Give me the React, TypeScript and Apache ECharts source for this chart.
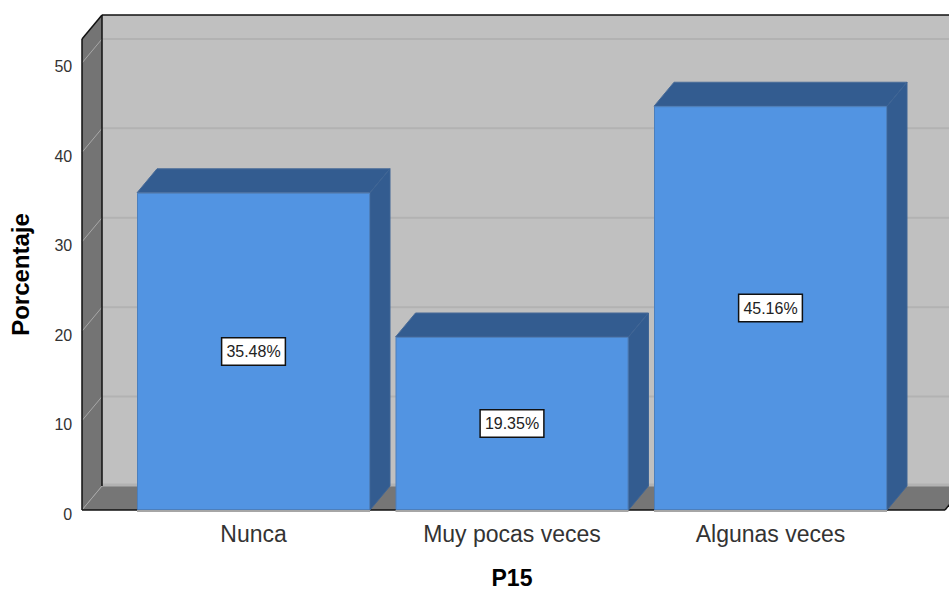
import React, { useEffect, useRef } from "react";
import * as echarts from "echarts";

const categories = ["Nunca", "Muy pocas veces", "Algunas veces"];
const percentages = [35.48, 19.35, 45.16];
const gridTicks = [0, 10, 20, 30, 40, 50];
const labelTexts = ["35.48%", "19.35%", "45.16%"];
const xAxisName = "P15";
const yAxisName = "Porcentaje";
const yMax = 52.68;

const DX = 20;
const DY = -24;
const BAR_W = 233;
const WALL_INSET = 42.25;
const FONT = "'Liberation Sans', Arial, sans-serif";

function poly(points: number[][], fill: string, stroke?: string, lineWidth = 1) {
  return {
    type: "polygon",
    shape: { points },
    style: { fill, stroke: stroke || "none", lineWidth },
  };
}
function seg(x1: number, y1: number, x2: number, y2: number, stroke: string, lineWidth = 1) {
  return { type: "line", shape: { x1, y1, x2, y2 }, style: { stroke, lineWidth } };
}

export default function App() {
  const ref = useRef<HTMLDivElement>(null);
  useEffect(() => {
    document.body.style.margin = "0";
    const chart = echarts.init(ref.current!, undefined, { renderer: "svg" });

    const renderWalls = (params: any, api: any) => {
      const cs = params.coordSys;
      const left = cs.x - WALL_INSET;
      const right = 945;
      const bottom = api.coord([0, 0])[1];
      const top = cs.y;
      const ch: any[] = [
        poly([[left + DX, top + DY], [right + DX, top + DY], [right + DX, bottom + DY], [left + DX, bottom + DY]], "#C0C0C0"),
        poly([[left, bottom], [right, bottom], [right + DX, bottom + DY], [left + DX, bottom + DY]], "#767676"),
        poly([[left, top], [left + DX, top + DY], [left + DX, bottom + DY], [left, bottom]], "#747474"),
      ];
      gridTicks.forEach((t) => {
        const y = api.coord([0, t])[1];
        ch.push(seg(left, y, left + DX, y + DY, "#A8A8A8", 1));
        ch.push(seg(left + DX, y + DY - (t === 0 ? 1 : 0), right + DX, y + DY - (t === 0 ? 1 : 0), "#B2B2B2", t === 0 ? 3 : 2));
      });
      ch.push(seg(left + DX, top + DY, 949, top + DY, "#111", 1.5));
      ch.push(seg(left, top, left + DX, top + DY, "#111", 1.5));
      ch.push(seg(left, top, left, bottom, "#111", 1.5));
      ch.push(seg(left + DX, top + DY, left + DX, bottom + DY, "#111", 1.5));
      ch.push(seg(left, bottom, right, bottom, "#111", 1.5));
      ch.push(seg(right, bottom, right + DX, bottom + DY, "#111", 1.5));
      return { type: "group", children: ch };
    };

    const renderFaces = (_: any, api: any) => {
      const i = api.value(0);
      const [cx, yTop] = api.coord([i, api.value(1)]);
      const yBot = api.coord([i, 0])[1];
      const l = cx - BAR_W / 2;
      const r = cx + BAR_W / 2;
      return {
        type: "group",
        children: [
          seg(l, yBot + 1, r, yBot + 1, "#A6A6A6", 2),
          poly([[l, yTop], [l + DX, yTop + DY], [r + DX, yTop + DY], [r, yTop]], "#335C90", "#4A6C98"),
          poly([[r, yTop], [r + DX, yTop + DY], [r + DX, yBot + DY], [r, yBot]], "#335C90", "#3F6595"),
        ],
      };
    };

    chart.setOption({
      animation: false,
      backgroundColor: "#FFFFFF",
      textStyle: { fontFamily: FONT },
      grid: { left: 124.25, width: 775.5, top: 39, bottom: 80, containLabel: false, outerBoundsMode: "none" },
      xAxis: {
        type: "category",
        data: categories,
        name: xAxisName,
        nameLocation: "middle",
        nameGap: 56,
        nameTextStyle: { fontFamily: FONT, fontSize: 23, fontWeight: "bold", color: "#000" },
        axisLine: { show: false },
        axisTick: { show: false },
        axisLabel: { margin: 12, fontFamily: FONT, fontSize: 23, color: "#333", hideOverlap: false, interval: 0 },
        z: 5,
      },
      yAxis: {
        type: "value",
        min: 0,
        max: yMax,
        interval: 10,
        name: yAxisName,
        nameLocation: "middle",
        nameRotate: 90,
        nameGap: 92,
        nameTextStyle: { fontFamily: FONT, fontSize: 24, fontWeight: "bold", color: "#000" },
        axisLine: { show: false },
        axisTick: { show: false },
        splitLine: { show: false },
        axisLabel: {
          margin: 52,
          fontFamily: FONT,
          fontSize: 16,
          color: "#333",
          showMaxLabel: false,
          verticalAlign: "top",
          lineHeight: 8,
        },
      },
      series: [
        {
          type: "custom",
          renderItem: renderWalls,
          data: [[0, 0]],
          clip: false,
          silent: true,
          z: 1,
          encode: { x: 0, y: 1 },
        },
        {
          type: "custom",
          renderItem: renderFaces,
          data: percentages.map((v, i) => [i, v]),
          clip: false,
          silent: true,
          z: 2,
          encode: { x: 0, y: 1 },
        },
        {
          type: "bar",
          data: percentages,
          barWidth: BAR_W,
          z: 3,
          itemStyle: { color: "#5294E2", borderColor: "#4C7FBC", borderWidth: 1 },
          label: {
            show: true,
            position: "inside",
            formatter: (p: any) => labelTexts[p.dataIndex],
            fontFamily: FONT,
            fontSize: 16,
            color: "#222",
            backgroundColor: "#FFFFFF",
            borderColor: "#111",
            borderWidth: 1.5,
            padding: [6, 4, 4, 4],
          },
        },
      ],
    });
    return () => chart.dispose();
  }, []);
  return <div ref={ref} style={{ width: 949, height: 590 }} />;
}
